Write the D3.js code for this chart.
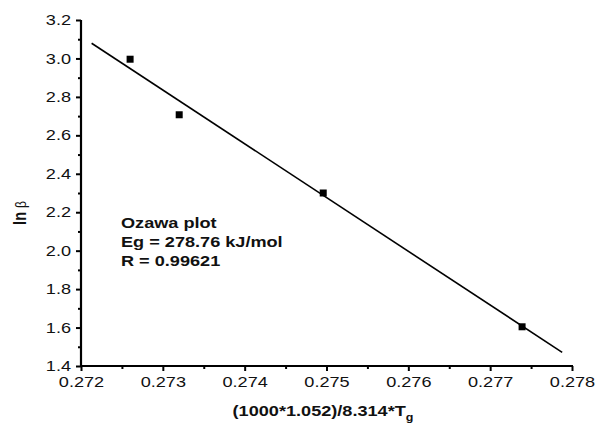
<!DOCTYPE html>
<html><head><meta charset="utf-8">
<script src="https://cdn.jsdelivr.net/npm/d3@7"></script>
<style>body{margin:0;background:#fff}svg{display:block}text{font-family:"Liberation Sans",Arial,sans-serif}</style>
</head><body><svg id="c" width="607" height="430"></svg>
<script>
const xValues = [0.2726, 0.2732, 0.27496, 0.27739];
const yValues = [2.996, 2.707, 2.300, 1.604];
const fitX = [0.27213, 0.27788];
const fitY = [3.079, 1.471];
const xTicks = [0.272, 0.273, 0.274, 0.275, 0.276, 0.277, 0.278];
const yTicks = [1.4, 1.6, 1.8, 2.0, 2.2, 2.4, 2.6, 2.8, 3.0, 3.2];
const annotation = ["Ozawa plot", "Eg = 278.76 kJ/mol", "R = 0.99621"];

const SX = 1.25; // horizontal stretch of the reference's text
const svg = d3.select("#c");
const L = 81, R = 572, T = 20, B = 366;
const x = d3.scaleLinear().domain([0.272, 0.278]).range([L, R]);
const y = d3.scaleLinear().domain([1.4, 3.2]).range([B, T]);

const xMinor = d3.range(0, 6).map(i => 0.2725 + i * 0.001);
const yMinor = d3.range(0, 9).map(i => 1.5 + i * 0.2);

const gx = svg.append("g").attr("transform", `translate(0,${B})`)
  .call(d3.axisBottom(x).tickValues(xTicks).tickFormat(d3.format(".3f")).tickSize(5).tickPadding(6));
const gxm = svg.append("g").attr("transform", `translate(0,${B})`)
  .call(d3.axisBottom(x).tickValues(xMinor).tickFormat("").tickSize(3));
const gy = svg.append("g").attr("transform", `translate(${L},0)`)
  .call(d3.axisLeft(y).tickValues(yTicks).tickFormat(d3.format(".1f")).tickSize(5).tickPadding(3));
const gym = svg.append("g").attr("transform", `translate(${L},0)`)
  .call(d3.axisLeft(y).tickValues(yMinor).tickFormat("").tickSize(3));

[gx, gxm, gy, gym].forEach(g => {
  g.select(".domain").attr("stroke", "#000").attr("stroke-width", 2.2);
  g.selectAll(".tick line").attr("stroke", "#000").attr("stroke-width", 2);
  g.selectAll(".tick text").attr("fill", "#111").attr("transform", `scale(${SX},1)`)
    .style("font-size", "14.5px").style("font-family", '"Liberation Sans",Arial,sans-serif');
});
gxm.select(".domain").remove();
gym.select(".domain").remove();
gx.select(".domain").attr("d", `M${L},0H${R+1}`);
gy.select(".domain").attr("d", `M0,${B+1}V${T}`);

// fit line
const line = d3.line().x(d => x(d[0])).y(d => y(d[1]));
svg.append("path").datum(fitX.map((v, i) => [v, fitY[i]]))
  .attr("d", line).attr("fill", "none").attr("stroke", "#000").attr("stroke-width", 1.6);

// points
svg.selectAll("rect.pt").data(xValues.map((v, i) => [v, yValues[i]])).enter()
  .append("rect").attr("class", "pt")
  .attr("x", d => x(d[0]) - 3.5).attr("y", d => y(d[1]) - 3.5)
  .attr("width", 7).attr("height", 7).attr("fill", "#000");

// annotation
svg.append("g").attr("transform", `translate(121,0) scale(${SX},1)`)
  .selectAll("text").data(annotation).enter().append("text")
  .attr("x", 0).attr("y", (d, i) => 228 + i * 19)
  .attr("font-weight", "bold").attr("font-size", 14.5).attr("fill", "#111").text(d => d);

// x label
const xl = svg.append("text").attr("transform", `translate(323,416) scale(${SX},1)`).attr("text-anchor", "middle")
  .attr("font-weight", "bold").attr("font-size", 14.5).attr("fill", "#111");
xl.append("tspan").text("(1000*1.052)/8.314*T");
xl.append("tspan").attr("dy", 5).attr("font-size", 10).text("g");

// y label
const yl = svg.append("text").attr("transform", `translate(26,213) scale(${SX},1) rotate(-90)`).attr("text-anchor", "middle")
  .attr("font-size", 14.5).attr("fill", "#111");
yl.append("tspan").attr("font-weight", "bold").text("ln ");
yl.append("tspan").attr("font-weight", "normal").attr("font-size", 12).text("β");
</script></body></html>
